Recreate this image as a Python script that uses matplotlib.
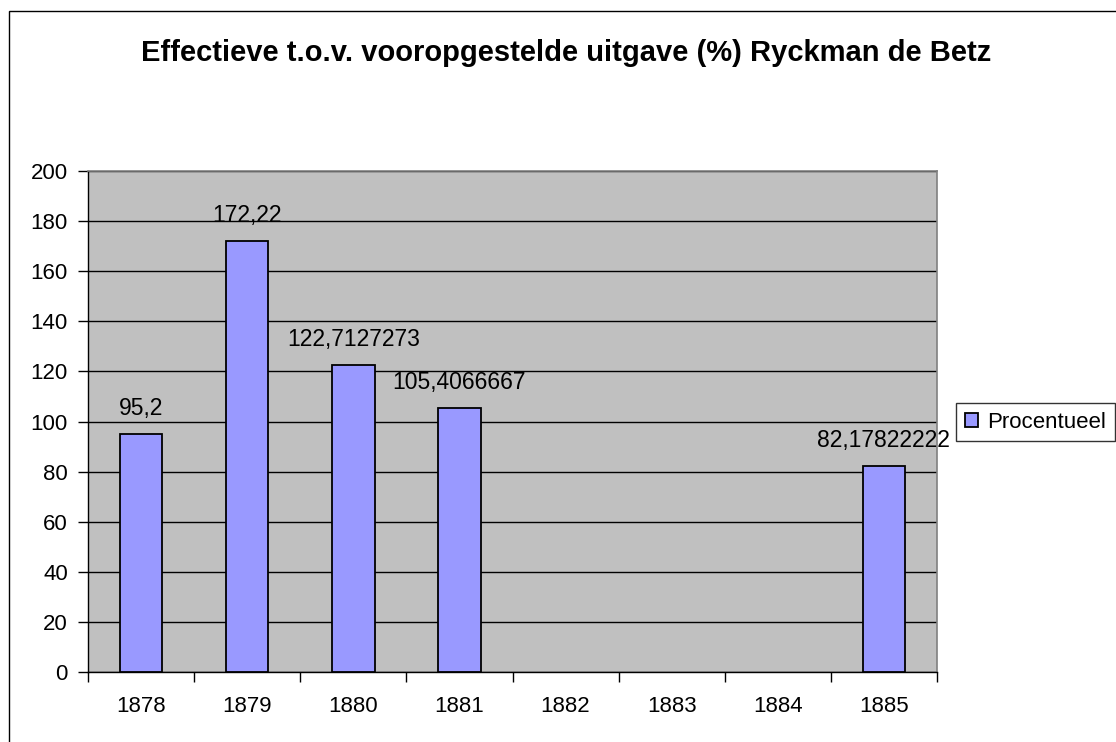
import matplotlib
matplotlib.use("Agg")
import matplotlib.pyplot as plt
import matplotlib.patches as mpatches
import numpy as np

# Data
years = ["1878", "1879", "1880", "1881", "1882", "1883", "1884", "1885"]
procentueel = [95.2, 172.22, 122.7127273, 105.4066667, np.nan, np.nan, np.nan, 82.17822222]
y_ticks = [0, 20, 40, 60, 80, 100, 120, 140, 160, 180, 200]

plt.rcParams['font.family'] = ['Liberation Sans', 'DejaVu Sans']

W, H = 1116, 742
fig = plt.figure(figsize=(W / 100, H / 100), dpi=100)
fig.patch.set_facecolor('white')

# plot area in pixels
left, right, top, bottom = 88, 937, 171, 672
ax = fig.add_axes([left / W, 1 - bottom / H, (right - left) / W, (bottom - top) / H])
ax.set_facecolor('#C0C0C0')

x = np.arange(len(years)) + 0.5
ax.bar(x, procentueel, width=0.4, color='#9999FF', edgecolor='black', linewidth=1.3,
       label='Procentueel', zorder=3)

for xi, v in zip(x, procentueel):
    if np.isnan(v):
        continue
    ax.text(xi, v + 7.5, str(v).replace('.', ','), ha='center', va='baseline',
            fontsize=16.5, clip_on=False, zorder=4)

ax.set_xlim(0, len(years))
ax.set_ylim(0, 200)
ax.set_yticks(y_ticks)
ax.yaxis.grid(True, color='black', linewidth=1.0, zorder=0)
ax.set_axisbelow(True)

# category boundaries as major ticks, labels on minor ticks
ax.set_xticks(np.arange(len(years) + 1))
ax.set_xticklabels([])
ax.set_xticks(x, minor=True)
ax.set_xticklabels(years, minor=True)
ax.tick_params(axis='x', which='major', length=7, width=1, direction='out')
ax.tick_params(axis='x', which='minor', length=0, pad=17, labelsize=16)
ax.tick_params(axis='y', length=7, width=1, direction='out', pad=7.5, labelsize=16)

for s in ['top', 'right']:
    ax.spines[s].set_color('#808080')
    ax.spines[s].set_linewidth(1.2)
for s in ['left', 'bottom']:
    ax.spines[s].set_color('black')
    ax.spines[s].set_linewidth(1.0)

fig.text(566 / W, 1 - 53 / H,
         'Effectieve t.o.v. vooropgestelde uitgave (%) Ryckman de Betz',
         ha='center', va='center', fontsize=21, fontweight='bold')

leg = fig.legend(loc='center left', bbox_to_anchor=(956 / W, 1 - 422 / H),
                 fontsize=16, frameon=True, fancybox=False, edgecolor='black',
                 handlelength=0.6, handleheight=0.6, handletextpad=0.4,
                 borderpad=0.4, borderaxespad=0)
leg.get_frame().set_linewidth(1.0)

# outer chart border
fig.patches.append(mpatches.Rectangle((9 / W, -0.1), 1.2, 1 - 11 / H + 0.1,
                                      transform=fig.transFigure, fill=False,
                                      edgecolor='black', linewidth=1.0))

fig.savefig('out.png', dpi=100)
